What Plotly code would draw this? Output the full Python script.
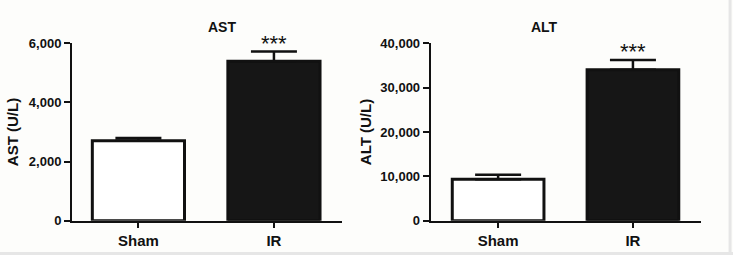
import plotly.graph_objects as go

groups = ["Sham", "IR"]
ast_mean = [2700, 5390]
ast_sem = [100, 330]
alt_mean = [9330, 34050]
alt_sem = [1050, 2200]
stars = ["", "***"]

W, H = 733, 255
FONT = "Liberation Sans, Arial, sans-serif"

fig = go.Figure()

def add_panel(idx, mean, sem):
    xa = "x" if idx == 1 else "x2"
    ya = "y" if idx == 1 else "y2"
    fig.add_trace(go.Bar(
        x=groups, y=mean, width=0.68,
        marker=dict(color=["#ffffff", "#161616"], line=dict(color="#111111", width=3)),
        error_y=dict(type="data", symmetric=False, array=sem, arrayminus=[0]*len(sem),
                     color="#111111", thickness=2.5, width=23),
        xaxis=xa, yaxis=ya, showlegend=False, hoverinfo="skip"))
    for g, m, s, st in zip(groups, mean, sem, stars):
        if st:
            fig.add_annotation(x=g, y=m + s, xref=xa, yref=ya, text=st,
                               showarrow=False, yanchor="bottom", yshift=-6,
                               font=dict(family=FONT, size=22, color="#111111"))

add_panel(1, ast_mean, ast_sem)
add_panel(2, alt_mean, alt_sem)

ydom = [(H - 220.7) / H, (H - 43.3) / H]
axis_common = dict(showline=True, linecolor="#111111", linewidth=2, ticks="outside",
                   tickcolor="#111111", tickwidth=2, showgrid=False, zeroline=False,
                   automargin=False,
                   tickfont=dict(family=FONT, size=13, color="#111111"))
xfont = dict(family=FONT, size=15, color="#111111")

fig.update_layout(
    width=W, height=H, autosize=False,
    margin=dict(l=0, r=0, t=0, b=0, pad=0, autoexpand=False),
    paper_bgcolor="#fdfdfb", plot_bgcolor="rgba(0,0,0,0)",
    xaxis=dict(domain=[72 / W, 341.7 / W], range=[-0.49, 1.5], anchor="y",
               **{**axis_common, "tickfont": xfont}, ticklen=5),
    yaxis=dict(domain=ydom, range=[0, 6000], anchor="x", dtick=2000, tickformat=",d",
               ticklen=6, title=dict(text="<b>AST (U/L)</b>", standoff=7,
                                     font=dict(family=FONT, size=15, color="#111111")),
               **axis_common),
    xaxis2=dict(domain=[430.7 / W, 701.3 / W], range=[-0.5, 1.507], anchor="y2",
                **{**axis_common, "tickfont": xfont}, ticklen=5),
    yaxis2=dict(domain=ydom, range=[0, 40000], anchor="x2", dtick=10000, tickformat=",d",
                ticklen=6, title=dict(text="<b>ALT (U/L)</b>", standoff=5,
                                      font=dict(family=FONT, size=15, color="#111111")),
                **axis_common),
)
fig.update_xaxes(tickprefix="<b>", ticksuffix="</b>")
fig.update_yaxes(tickprefix="<b>", ticksuffix="</b>")

for text, xc in [("AST", 206 / W), ("ALT", 560 / W)]:
    fig.add_annotation(x=xc, y=(H - 17) / H, xref="paper", yref="paper", text="<b>" + text + "</b>",
                       showarrow=False, font=dict(family=FONT, size=14, color="#111111"))

fig.add_shape(type="line", xref="paper", yref="paper", x0=0.996, y0=0, x1=0.996, y1=1,
              line=dict(color="#e6e6e6", width=3))
fig.add_shape(type="line", xref="paper", yref="paper", x0=0, y0=0.006, x1=1, y1=0.006,
              line=dict(color="#e6e6e6", width=3))

fig.write_html("out.html", config={"responsive": False, "displayModeBar": False},
               post_script="document.body.style.margin='0';document.body.style.overflow='hidden';")
